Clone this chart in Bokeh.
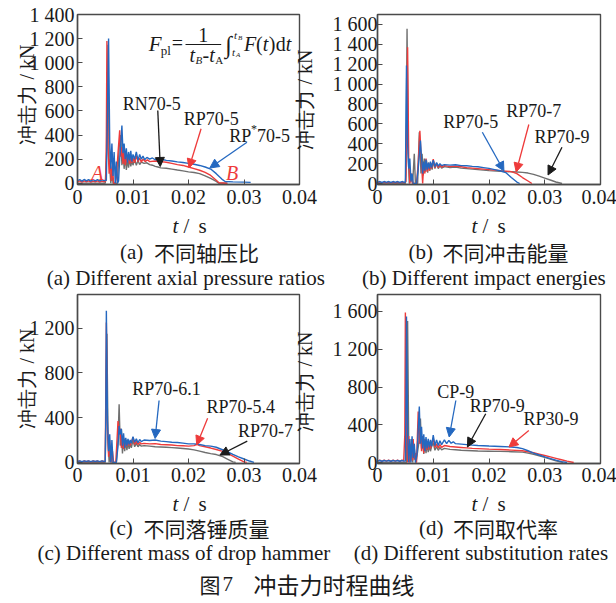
import math
from bokeh.plotting import figure
from bokeh.models import Range1d, FixedTicker, Label, Arrow, NormalHead, LinearAxis
from bokeh.layouts import row, column
from bokeh.embed import file_html
from bokeh.resources import INLINE

SERIF = "Liberation Serif"
CJK = "Noto Sans CJK SC"
BLUE = "#2468c0"
RED = "#ee3b3b"
GREY = "#6f6f6f"
AXC = "#4a4a4a"
TXT = "#1a1a1a"

# ---------------- ticks ----------------
x_ticks = [0, 0.01, 0.02, 0.03, 0.04]
x_tick_labels = ["0", "0.01", "0.02", "0.03", "0.04"]
ya_ticks = [0, 200, 400, 600, 800, 1000, 1200, 1400]
ya_labels = ["0", "200", "400", "600", "800", "1 000", "1 200", "1 400"]
yb_ticks = [0, 200, 400, 600, 800, 1000, 1200, 1400, 1600]
yb_labels = ["0", "200", "400", "600", "800", "1 000", "1 200", "1 400", "1 600"]
yc_ticks = [0, 400, 800, 1200]
yc_labels = ["0", "400", "800", "1 200"]
yd_ticks = [0, 400, 800, 1200, 1600]
yd_labels = ["0", "400", "800", "1 200", "1 600"]
y_title = "冲击力 / kN"

# ---------------- data: (t [s], F [kN]) ----------------
a_grey = [(0, 0), (0.0050, 0), (0.0053, 300), (0.0055, 1150), (0.0057, 200), (0.0060, 0), (0.0062, 100), (0.0064, 0),
          (0.0072, 0), (0.0075, 300), (0.0078, 400), (0.0080, 150), (0.0082, 280), (0.0084, 120), (0.0086, 230),
          (0.0088, 110), (0.0090, 200), (0.0092, 130), (0.0094, 210), (0.0096, 140), (0.0098, 190), (0.0100, 150),
          (0.0103, 200), (0.0106, 150), (0.0109, 190), (0.0112, 155), (0.0115, 175), (0.0120, 165), (0.0125, 170),
          (0.0130, 155), (0.0135, 150), (0.0140, 140), (0.0145, 135), (0.0150, 128), (0.0160, 125), (0.0170, 118),
          (0.0180, 110), (0.0190, 103), (0.0200, 95), (0.0210, 90), (0.0220, 80), (0.0230, 62), (0.0240, 40),
          (0.0250, 15), (0.0255, 0), (0.0270, 0)]
a_red = [(0, 12), (0.0004, 20), (0.0008, 10), (0.0012, 20), (0.0016, 12), (0.0020, 20), (0.0024, 10), (0.0028, 18),
         (0.0032, 12), (0.0036, 20), (0.0040, 10), (0.0044, 18), (0.0048, 12), (0.0051, 20), (0.0052, 400),
         (0.0053, 1180), (0.0055, 300), (0.0057, 80), (0.0059, 200), (0.0061, 20), (0.0063, 150), (0.0065, 0),
         (0.0068, 0), (0.0070, 50), (0.0073, 250), (0.0076, 440), (0.0078, 220), (0.0080, 300), (0.0082, 160),
         (0.0084, 260), (0.0086, 150), (0.0088, 230), (0.0090, 170), (0.0092, 240), (0.0094, 160), (0.0096, 220),
         (0.0098, 170), (0.0100, 210), (0.0103, 170), (0.0106, 230), (0.0109, 180), (0.0112, 210), (0.0115, 175),
         (0.0118, 200), (0.0122, 180), (0.0126, 195), (0.0130, 180), (0.0140, 185), (0.0150, 180), (0.0160, 175),
         (0.0170, 165), (0.0180, 155), (0.0190, 148), (0.0200, 135), (0.0210, 122), (0.0220, 108), (0.0230, 90),
         (0.0240, 65), (0.0250, 25), (0.0255, 5), (0.0270, 0)]
a_blue = [(0, 22), (0.0004, 30), (0.0008, 18), (0.0012, 32), (0.0016, 20), (0.0020, 30), (0.0024, 18), (0.0028, 31),
          (0.0032, 20), (0.0036, 30), (0.0040, 19), (0.0044, 28), (0.0048, 22), (0.0052, 25), (0.0054, 600),
          (0.0056, 1200), (0.0058, 350), (0.0060, 120), (0.0062, 330), (0.0064, 60), (0.0066, 260), (0.0068, 0),
          (0.0070, 180), (0.0072, 0), (0.0074, 20), (0.0076, 200), (0.0078, 330), (0.0080, 480), (0.0082, 250),
          (0.0084, 330), (0.0086, 200), (0.0088, 290), (0.0090, 170), (0.0092, 260), (0.0094, 190), (0.0096, 270),
          (0.0098, 180), (0.0100, 240), (0.0103, 200), (0.0106, 260), (0.0109, 190), (0.0112, 240), (0.0115, 200),
          (0.0118, 225), (0.0121, 195), (0.0125, 215), (0.0130, 200), (0.0135, 210), (0.0140, 195), (0.0145, 205),
          (0.0150, 200), (0.0155, 195), (0.0160, 190), (0.0170, 185), (0.0180, 178), (0.0190, 172), (0.0200, 165),
          (0.0210, 158), (0.0220, 148), (0.0230, 135), (0.0240, 118), (0.0250, 80), (0.0260, 35), (0.0266, 15),
          (0.0280, 12), (0.0300, 10), (0.0312, 8)]

b_grey = [(0, 0), (0.0050, 0), (0.0051, 100), (0.0053, 1556), (0.0055, 300), (0.0057, 0), (0.0060, 50), (0.0063, 0),
          (0.0066, 300), (0.0068, 0), (0.0072, 0), (0.0075, 515), (0.0078, 100), (0.0080, 300), (0.0082, 80),
          (0.0084, 250), (0.0086, 120), (0.0088, 230), (0.0090, 110), (0.0092, 210), (0.0094, 130), (0.0096, 200),
          (0.0098, 140), (0.0100, 230), (0.0103, 150), (0.0106, 200), (0.0109, 150), (0.0112, 180), (0.0115, 155),
          (0.0120, 170), (0.0130, 160), (0.0140, 165), (0.0150, 155), (0.0160, 150), (0.0170, 145), (0.0180, 140),
          (0.0190, 135), (0.0200, 130), (0.0220, 122), (0.0240, 118), (0.0250, 115), (0.0260, 112), (0.0270, 105),
          (0.0280, 92), (0.0290, 75), (0.0300, 55), (0.0310, 35), (0.0320, 15), (0.0331, 0)]
b_red = [(0, 8), (0.0004, 14), (0.0008, 6), (0.0012, 14), (0.0016, 8), (0.0020, 14), (0.0024, 6), (0.0028, 14),
         (0.0032, 8), (0.0036, 14), (0.0040, 6), (0.0044, 14), (0.0048, 8), (0.0051, 20), (0.0054, 1371),
         (0.0056, 250), (0.0058, 0), (0.0061, 100), (0.0063, 0), (0.0070, 0), (0.0073, 200), (0.0076, 530),
         (0.0078, 300), (0.0081, 0), (0.0083, 200), (0.0085, 100), (0.0087, 250), (0.0089, 120), (0.0091, 200),
         (0.0093, 130), (0.0095, 210), (0.0097, 150), (0.0100, 245), (0.0103, 160), (0.0106, 200), (0.0109, 160),
         (0.0112, 190), (0.0115, 165), (0.0120, 180), (0.0130, 170), (0.0140, 175), (0.0150, 168), (0.0160, 160),
         (0.0170, 155), (0.0180, 150), (0.0190, 145), (0.0200, 140), (0.0210, 135), (0.0220, 130), (0.0230, 125),
         (0.0240, 120), (0.0250, 100), (0.0260, 60), (0.0270, 25), (0.0277, 0)]
b_blue = [(0, 12), (0.0004, 20), (0.0008, 10), (0.0012, 20), (0.0016, 12), (0.0020, 20), (0.0024, 10), (0.0028, 20),
          (0.0032, 12), (0.0036, 20), (0.0040, 10), (0.0044, 20), (0.0048, 12), (0.0050, 15), (0.0052, 1187),
          (0.0054, 400), (0.0056, 150), (0.0058, 250), (0.0060, 20), (0.0062, 100), (0.0064, 0), (0.0070, 0),
          (0.0073, 150), (0.0077, 432), (0.0079, 250), (0.0081, 100), (0.0083, 220), (0.0085, 130), (0.0087, 240),
          (0.0089, 140), (0.0091, 210), (0.0093, 150), (0.0095, 220), (0.0097, 160), (0.0100, 235), (0.0103, 170),
          (0.0106, 210), (0.0109, 175), (0.0112, 200), (0.0115, 180), (0.0120, 190), (0.0130, 185), (0.0140, 188),
          (0.0150, 180), (0.0160, 178), (0.0170, 172), (0.0180, 168), (0.0190, 160), (0.0200, 152), (0.0210, 140),
          (0.0220, 128), (0.0230, 110), (0.0240, 60), (0.0250, 15), (0.0255, 0)]

c_grey = [(0, 0), (0.0050, 0), (0.0053, 1150), (0.0055, 200), (0.0057, 0), (0.0060, 150), (0.0062, 0), (0.0070, 0),
          (0.0073, 200), (0.0075, 519), (0.0077, 150), (0.0079, 300), (0.0081, 80), (0.0083, 220), (0.0085, 100),
          (0.0087, 200), (0.0089, 110), (0.0091, 180), (0.0093, 120), (0.0095, 170), (0.0097, 130), (0.0100, 200),
          (0.0103, 140), (0.0106, 170), (0.0109, 140), (0.0112, 160), (0.0115, 145), (0.0120, 150), (0.0130, 145),
          (0.0140, 140), (0.0150, 138), (0.0160, 135), (0.0170, 132), (0.0180, 128), (0.0190, 124), (0.0200, 120),
          (0.0210, 112), (0.0220, 100), (0.0230, 88), (0.0240, 78), (0.0250, 70), (0.0260, 55), (0.0270, 30),
          (0.0280, 5), (0.0285, 0)]
c_red = [(0, 6), (0.0004, 12), (0.0008, 5), (0.0012, 12), (0.0016, 6), (0.0020, 12), (0.0024, 5), (0.0028, 12),
         (0.0032, 6), (0.0036, 12), (0.0040, 5), (0.0044, 12), (0.0048, 6), (0.0050, 10), (0.0052, 1250),
         (0.0054, 300), (0.0056, 50), (0.0058, 200), (0.0060, 0), (0.0063, 100), (0.0065, 0), (0.0069, 0),
         (0.0073, 370), (0.0075, 250), (0.0077, 300), (0.0079, 130), (0.0081, 240), (0.0083, 120), (0.0085, 210),
         (0.0087, 140), (0.0089, 200), (0.0091, 150), (0.0093, 190), (0.0095, 150), (0.0097, 180), (0.0100, 225),
         (0.0103, 160), (0.0106, 190), (0.0109, 160), (0.0112, 180), (0.0115, 165), (0.0120, 170), (0.0130, 165),
         (0.0140, 168), (0.0150, 160), (0.0160, 158), (0.0170, 155), (0.0180, 150), (0.0190, 148), (0.0200, 145),
         (0.0210, 150), (0.0215, 162), (0.0220, 150), (0.0230, 140), (0.0240, 128), (0.0250, 115), (0.0260, 100),
         (0.0270, 80), (0.0280, 55), (0.0290, 30), (0.0300, 5), (0.0305, 0)]
c_blue = [(0, 8), (0.0004, 14), (0.0008, 6), (0.0012, 14), (0.0016, 8), (0.0020, 14), (0.0024, 6), (0.0028, 14),
          (0.0032, 8), (0.0036, 14), (0.0040, 6), (0.0044, 14), (0.0048, 8), (0.0050, 10), (0.0051, 400),
          (0.0052, 1354), (0.0054, 370), (0.0056, 100), (0.0058, 250), (0.0060, 0), (0.0062, 200), (0.0064, 0),
          (0.0070, 0), (0.0073, 150), (0.0075, 325), (0.0077, 250), (0.0079, 300), (0.0081, 150), (0.0083, 260),
          (0.0085, 130), (0.0087, 220), (0.0089, 150), (0.0091, 210), (0.0093, 160), (0.0095, 200), (0.0097, 170),
          (0.0100, 230), (0.0103, 180), (0.0106, 210), (0.0109, 175), (0.0112, 205), (0.0115, 185), (0.0120, 200),
          (0.0130, 195), (0.0140, 200), (0.0150, 190), (0.0160, 185), (0.0170, 180), (0.0180, 178), (0.0190, 172),
          (0.0200, 165), (0.0210, 165), (0.0220, 160), (0.0230, 150), (0.0240, 145), (0.0250, 135), (0.0260, 115),
          (0.0270, 95), (0.0280, 72), (0.0290, 50), (0.0300, 30), (0.0310, 12), (0.0318, 0)]

d_grey = [(0, 0), (0.0052, 0), (0.0054, 1500), (0.0056, 200), (0.0058, 0), (0.0061, 250), (0.0063, 0), (0.0066, 150),
          (0.0069, 0), (0.0074, 200), (0.0077, 467), (0.0079, 150), (0.0081, 250), (0.0083, 90), (0.0085, 220),
          (0.0087, 100), (0.0089, 190), (0.0091, 110), (0.0093, 180), (0.0095, 120), (0.0097, 170), (0.0100, 210),
          (0.0103, 130), (0.0106, 170), (0.0109, 130), (0.0112, 160), (0.0115, 135), (0.0120, 150), (0.0130, 140),
          (0.0140, 135), (0.0150, 130), (0.0160, 128), (0.0170, 125), (0.0180, 122), (0.0200, 120), (0.0220, 118),
          (0.0240, 115), (0.0260, 110), (0.0270, 100), (0.0280, 88), (0.0290, 72), (0.0300, 55), (0.0310, 38),
          (0.0320, 18), (0.0333, 0)]
d_red = [(0, 15), (0.0004, 25), (0.0008, 12), (0.0012, 25), (0.0016, 15), (0.0020, 25), (0.0024, 12), (0.0028, 25),
         (0.0032, 15), (0.0036, 25), (0.0040, 12), (0.0044, 25), (0.0047, 15), (0.0049, 300), (0.0050, 1589),
         (0.0052, 400), (0.0054, 0), (0.0056, 280), (0.0058, 0), (0.0060, 200), (0.0062, 20), (0.0064, 250),
         (0.0066, 30), (0.0068, 100), (0.0070, 0), (0.0073, 540), (0.0075, 200), (0.0077, 350), (0.0079, 120),
         (0.0081, 280), (0.0083, 100), (0.0085, 250), (0.0087, 130), (0.0089, 230), (0.0091, 140), (0.0093, 210),
         (0.0095, 150), (0.0097, 200), (0.0100, 260), (0.0103, 160), (0.0106, 200), (0.0109, 155), (0.0112, 190),
         (0.0115, 160), (0.0120, 180), (0.0130, 170), (0.0140, 165), (0.0150, 160), (0.0160, 155), (0.0170, 150),
         (0.0180, 148), (0.0190, 145), (0.0200, 142), (0.0220, 138), (0.0240, 132), (0.0260, 125), (0.0270, 115),
         (0.0280, 105), (0.0290, 90), (0.0300, 75), (0.0310, 60), (0.0320, 45), (0.0330, 30), (0.0340, 15),
         (0.0352, 0)]
d_blue = [(0, 15), (0.0004, 22), (0.0008, 14), (0.0012, 22), (0.0016, 15), (0.0020, 22), (0.0024, 14), (0.0028, 22),
          (0.0032, 15), (0.0036, 22), (0.0040, 14), (0.0044, 22), (0.0048, 15), (0.0050, 15), (0.0051, 600),
          (0.0052, 1547), (0.0054, 300), (0.0056, 0), (0.0058, 250), (0.0060, 0), (0.0062, 277), (0.0064, 50),
          (0.0066, 200), (0.0068, 0), (0.0071, 100), (0.0075, 594), (0.0077, 200), (0.0079, 380), (0.0081, 150),
          (0.0083, 300), (0.0085, 120), (0.0087, 270), (0.0089, 150), (0.0091, 250), (0.0093, 160), (0.0095, 240),
          (0.0097, 170), (0.0100, 290), (0.0103, 180), (0.0106, 240), (0.0109, 180), (0.0112, 230), (0.0115, 190),
          (0.0120, 240), (0.0124, 200), (0.0128, 235), (0.0132, 205), (0.0136, 220), (0.0140, 200), (0.0150, 195),
          (0.0160, 190), (0.0170, 185), (0.0180, 180), (0.0190, 178), (0.0200, 175), (0.0220, 170), (0.0240, 165),
          (0.0250, 160), (0.0260, 148), (0.0270, 125), (0.0280, 100), (0.0290, 80), (0.0300, 60), (0.0310, 42),
          (0.0320, 25), (0.0330, 10), (0.0340, 0)]

# ---------------- layout (image pixel -> data) ----------------
FIG_LW, FIG_RW = 329, 287
TOP_H, S1_H, BOT_H = 212, 78, 200
S2_H = 600 - TOP_H - S1_H - BOT_H
CFG = {
    "a": dict(fl=77, ft=14, fw=224, fh=170, x=(0, 0.04), y=(-10, 1400)),
    "b": dict(fl=376, ft=14, fw=224, fh=170, x=(0, 0.04), y=(-10, 1700)),
    "c": dict(fl=77, ft=294, fw=224, fh=169, x=(0, 0.04), y=(-10, 1500)),
    "d": dict(fl=376, ft=294, fw=224, fh=169, x=(0, 0.04), y=(-10, 1780)),
    "s1": dict(fl=0, ft=TOP_H, fw=616, fh=S1_H, x=(0, 616), y=(0, S1_H)),
    "s2": dict(fl=0, ft=TOP_H + S1_H + BOT_H, fw=616, fh=S2_H, x=(0, 616), y=(0, S2_H)),
}


def to_data(cfg, px, py):
    x0, x1 = cfg["x"]
    y0, y1 = cfg["y"]
    return (x0 + (px - cfg["fl"]) / cfg["fw"] * (x1 - x0),
            y1 - (py - cfg["ft"]) / cfg["fh"] * (y1 - y0))


def txt(p, cfg, px, py, text, size=20, font=SERIF, style="normal", color=TXT,
        align="left", baseline="middle"):
    x, y = to_data(cfg, px, py)
    p.add_layout(Label(x=x, y=y, text=text, text_font=font, text_font_size=f"{size}px",
                       text_font_style=style, text_color=color, text_align=align,
                       text_baseline=baseline))


def arrow(p, cfg, p0, p1, color):
    x0, y0 = to_data(cfg, *p0)
    x1, y1 = to_data(cfg, *p1)
    p.add_layout(Arrow(end=NormalHead(size=9, fill_color=color, line_color=color, line_width=1),
                       x_start=x0, y_start=y0, x_end=x1, y_end=y1,
                       line_color=color, line_width=1.3))


def split(pairs):
    return [a for a, _ in pairs], [b for _, b in pairs]


def style_axis(ax):
    ax.major_tick_in = 5
    ax.major_tick_out = 0
    ax.minor_tick_line_color = None
    ax.axis_line_color = AXC
    ax.axis_line_width = 1.4
    ax.major_tick_line_color = AXC
    ax.major_label_text_font = SERIF
    ax.major_label_text_font_size = "20px"
    ax.major_label_text_color = TXT


def panel(key, fig_x, fig_y, fig_w, fig_h, yt, yl, curves, ystand, xstand):
    cfg = CFG[key]
    ml = cfg["fl"] - fig_x
    mt = cfg["ft"] - fig_y
    mr = fig_w - ml - cfg["fw"]
    mb = fig_h - mt - cfg["fh"]
    p = figure(width=fig_w, height=fig_h, output_backend="svg", toolbar_location=None,
               x_range=Range1d(*cfg["x"]), y_range=Range1d(*cfg["y"]),
               min_border_left=ml, min_border_right=mr, min_border_top=mt, min_border_bottom=mb)
    p.grid.visible = False
    p.outline_line_color = AXC
    p.outline_line_width = 1.4
    p.xaxis[0].ticker = FixedTicker(ticks=x_ticks)
    p.xaxis[0].major_label_overrides = dict(zip(x_ticks, x_tick_labels))
    p.yaxis[0].ticker = FixedTicker(ticks=yt)
    p.yaxis[0].major_label_overrides = dict(zip(yt, yl))
    style_axis(p.xaxis[0])
    style_axis(p.yaxis[0])
    p.xaxis[0].major_label_standoff = xstand
    p.yaxis[0].major_label_standoff = ystand
    for pairs, col in curves:
        t, f = split(pairs)
        p.line(t, f, line_color=col, line_width=1.4)
    return p, cfg


def title_axis(p, cfg, side, py, standoff):
    """A tick-less axis whose single label is the vertical axis title."""
    yv = to_data(cfg, cfg["fl"], py)[1]
    ax = LinearAxis(ticker=FixedTicker(ticks=[yv]), major_label_overrides={yv: y_title})
    ax.axis_line_color = None
    ax.major_tick_line_color = None
    ax.minor_tick_line_color = None
    ax.major_tick_in = 0
    ax.major_tick_out = 0
    ax.major_label_standoff = standoff
    ax.major_label_orientation = math.pi / 2
    ax.major_label_text_font = SERIF
    ax.major_label_text_font_size = "20px"
    ax.major_label_text_color = TXT
    p.add_layout(ax, side)


# ---------------- panels ----------------
pa, ca = panel("a", 0, 0, FIG_LW, TOP_H, ya_ticks, ya_labels,
               [(a_grey, GREY), (a_red, RED), (a_blue, BLUE)], 3, 5)
pb, cb = panel("b", FIG_LW, 0, FIG_RW, TOP_H, yb_ticks, yb_labels,
               [(b_grey, GREY), (b_red, RED), (b_blue, BLUE)], 0, 5)
pc, cc = panel("c", 0, TOP_H + S1_H, FIG_LW, BOT_H, yc_ticks, yc_labels,
               [(c_grey, GREY), (c_red, RED), (c_blue, BLUE)], 3, 4)
pd, cd = panel("d", FIG_LW, TOP_H + S1_H, FIG_RW, BOT_H, yd_ticks, yd_labels,
               [(d_grey, GREY), (d_red, RED), (d_blue, BLUE)], 0, 4)

# vertical axis titles: left one for the left panel, right one (same canvas) for the right panel.
# The rotated label is anchored at one of its ends, so the tick sits half a label length
# (about 53 px) away from the wanted centre.
HALF = 53
title_axis(pa, ca, "left", 97 - HALF, 0)
title_axis(pa, ca, "right", 96 + HALF, 5)
title_axis(pc, cc, "left", 381 - HALF, 0)
title_axis(pc, cc, "right", 378 + HALF, 5)

# formula in (a)
txt(pa, ca, 149, 43, "F", size=21, style="italic")
txt(pa, ca, 161, 50, "pl", size=13)
txt(pa, ca, 172, 42, "=", size=20)
txt(pa, ca, 204, 34, "1", size=20, align="center")
fx0, fy0 = to_data(ca, 186, 44)
fx1, fy1 = to_data(ca, 222, 44)
pa.segment(x0=[fx0], y0=[fy0], x1=[fx1], y1=[fy1], line_color=TXT, line_width=1)
txt(pa, ca, 190, 54, "t", size=20, style="italic")
txt(pa, ca, 196, 59, "B", size=11, style="italic")
txt(pa, ca, 203, 54, "-", size=20)
txt(pa, ca, 210, 54, "t", size=20, style="italic")
txt(pa, ca, 216, 59, "A", size=11)
txt(pa, ca, 226, 44, "∫", size=24)
txt(pa, ca, 235, 34, "t", size=11, style="italic")
txt(pa, ca, 239, 37, "B", size=7, style="italic")
txt(pa, ca, 233, 51, "t", size=11, style="italic")
txt(pa, ca, 237, 54, "A", size=7, style="italic")
txt(pa, ca, 245, 43, "F", size=20, style="italic")
txt(pa, ca, 257, 43, "(", size=20)
txt(pa, ca, 264, 43, "t", size=20, style="italic")
txt(pa, ca, 270, 43, ")", size=20)
txt(pa, ca, 277, 43, "d", size=20)
txt(pa, ca, 287, 43, "t", size=20, style="italic")

# annotations (a)
txt(pa, ca, 152, 103, "RN70-5", size=18, align="center")
arrow(pa, ca, (158, 110), (160.5, 166), TXT)
txt(pa, ca, 212, 118, "RP70-5", size=18, align="center")
arrow(pa, ca, (201.7, 128.3), (189.5, 167.5), RED)
txt(pa, ca, 230, 135, "RP", size=18)
txt(pa, ca, 252, 128, "*", size=12)
txt(pa, ca, 258, 135, "70-5", size=18)
arrow(pa, ca, (248, 141.7), (210.5, 167.5), BLUE)
txt(pa, ca, 97, 172, "A", size=20, style="italic", color=RED, align="center")
txt(pa, ca, 233, 172, "B", size=20, style="italic", color=RED, align="center")

# annotations (b)
txt(pb, cb, 469.7, 121.7, "RP70-5", size=18, align="center")
arrow(pb, cb, (481.3, 131.7), (503, 170.5), BLUE)
txt(pb, cb, 533, 110, "RP70-7", size=18, align="center")
arrow(pb, cb, (528, 124), (515.3, 171.5), RED)
txt(pb, cb, 561.3, 136.7, "RP70-9", size=18, align="center")
arrow(pb, cb, (561.3, 146.7), (547.3, 174.5), TXT)

# annotations (c)
txt(pc, cc, 166.7, 388.3, "RP70-6.1", size=18, align="center")
arrow(pc, cc, (159.3, 400), (155.3, 438), BLUE)
txt(pc, cc, 241.7, 406.7, "RP70-5.4", size=18, align="center")
arrow(pc, cc, (208.3, 417.7), (197.3, 444.5), RED)
txt(pc, cc, 266.7, 430, "RP70-7", size=18, align="center")
arrow(pc, cc, (248.3, 440.7), (220.7, 454.5), TXT)

# annotations (d)
txt(pd, cd, 454.7, 391.7, "CP-9", size=18, align="center")
arrow(pd, cd, (454.7, 400), (448, 436.5), BLUE)
txt(pd, cd, 496.3, 405, "RP70-9", size=18, align="center")
arrow(pd, cd, (484.7, 413.3), (466.3, 446.5), TXT)
txt(pd, cd, 550.3, 418.3, "RP30-9", size=18, align="center")
arrow(pd, cd, (528, 430), (508, 446.5), RED)


# ---------------- caption strips ----------------
def strip(key):
    cfg = CFG[key]
    s = figure(width=cfg["fw"], height=cfg["fh"], output_backend="svg", toolbar_location=None,
               x_range=Range1d(*cfg["x"]), y_range=Range1d(*cfg["y"]),
               x_axis_location=None, y_axis_location=None, min_border=0)
    s.grid.visible = False
    s.outline_line_color = None
    return s, cfg


def t_over_s(s, cfg, cx, py):
    txt(s, cfg, cx - 17, py, "t", size=21, style="italic")
    txt(s, cfg, cx - 6, py, "/", size=21)
    txt(s, cfg, cx + 9, py, "s", size=21)


def cn_caption(s, cfg, cx, py, tag, cn):
    total = 34 + 21 * len(cn)
    start = cx - total / 2
    txt(s, cfg, start, py, tag, size=21)
    txt(s, cfg, start + 34, py, cn, size=21, font=CJK)


s1, c1 = strip("s1")
t_over_s(s1, c1, 189, 225)
t_over_s(s1, c1, 488, 225)
cn_caption(s1, c1, 189, 251, "(a)", "不同轴压比")
cn_caption(s1, c1, 488, 251, "(b)", "不同冲击能量")
txt(s1, c1, 188, 277, "(a)  Different axial pressure ratios", size=21, align="center")
txt(s1, c1, 486, 277, "(b)  Different impact energies", size=21, align="center")

s2, c2 = strip("s2")
t_over_s(s2, c2, 189, 503)
t_over_s(s2, c2, 488, 503)
cn_caption(s2, c2, 189, 527, "(c)", "不同落锤质量")
cn_caption(s2, c2, 488, 527, "(d)", "不同取代率")
txt(s2, c2, 186, 552, "(c)  Different mass of drop hammer", size=21, align="center")
txt(s2, c2, 483, 552, "(d)  Different substitution rates", size=21, align="center")
txt(s2, c2, 199, 583, "图", size=21, font=CJK)
txt(s2, c2, 222, 583, "7", size=21)
txt(s2, c2, 253, 583, "冲击力时程曲线", size=23, font=CJK)

layout = column(row(pa, pb), s1, row(pc, pd), s2)
open("out.html", "w").write(file_html(layout, INLINE))
